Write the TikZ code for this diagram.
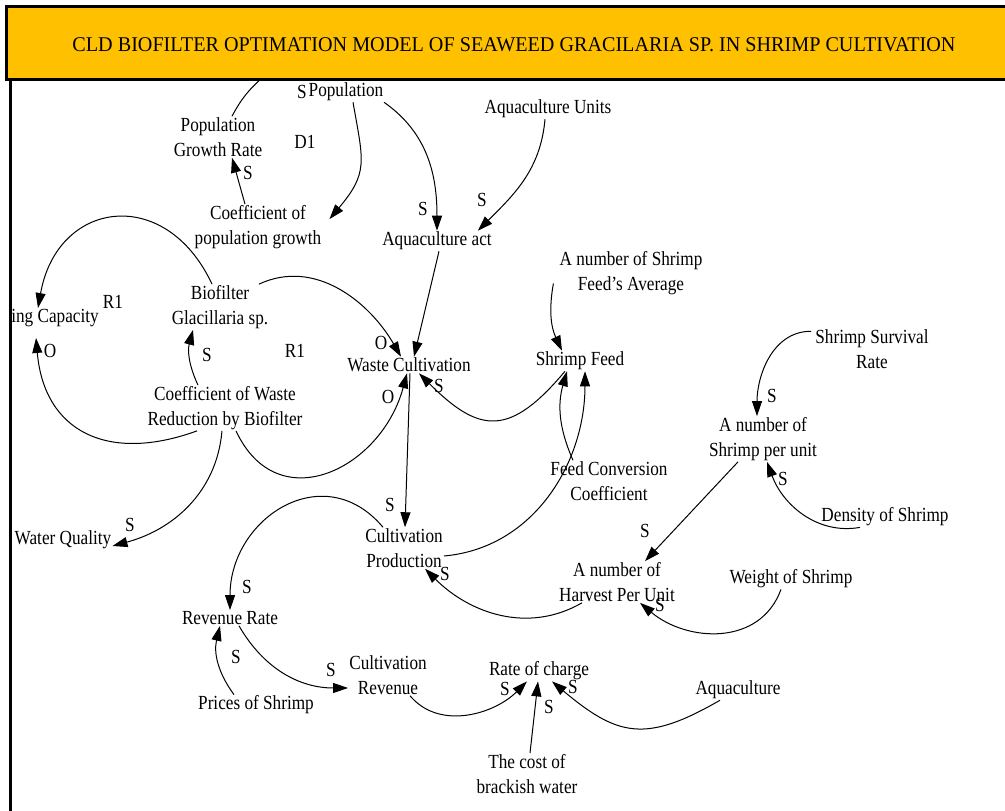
\documentclass[tikz,border=0pt]{standalone}
\usepackage{fontspec}
\setmainfont{Liberation Serif}[FakeStretch=0.86]
\newfontfamily\titlefont{Liberation Serif}[FakeStretch=0.96]
\definecolor{CLDOrange}{RGB}{255,192,0}
\usetikzlibrary{arrows.meta}

\begin{document}
\begin{tikzpicture}[x=1pt, y=1pt]
        % Causal loop diagram (variables, polarities, links)
        \tikzset{
          var/.style={font=\fontsize{20}{25}\selectfont, align=center, inner sep=1pt},
          pol/.style={font=\fontsize{20}{25}\selectfont, inner sep=0pt},
          link/.style={line width=1pt, -{Triangle[length=15pt, width=10pt]}},
          plain/.style={line width=1pt}
        }
        \useasboundingbox (0,0) rectangle (1005,811);

        % Population
        \node[var] (pop) at (346, 719) {Population};
        \node[pol] (spop) at (302, 719) {S};
        \node[var] (pgr) at (218, 674) {Population\\Growth Rate};
        \node[pol] (d1) at (305, 669) {D1};
        \node[var] (cpg) at (258, 584) {Coefficient of\\population growth};
        \node[pol] (scpg) at (248, 638) {S};
        \coordinate (popin) at (262, 733);

        % Aquaculture
        \node[var] (aqu) at (548, 702) {Aquaculture Units};
        \node[var] (aqa) at (437, 570) {Aquaculture act};
        \node[pol] (saqa1) at (423, 602) {S};
        \node[pol] (saqa2) at (482, 611) {S};

        % Biofilter
        \node[var] (cap) at (55, 493) {ing Capacity};
        \node[pol] (r1a) at (113, 509) {R1};
        \node[pol] (ocap) at (50, 460) {O};
        \node[var] (bio) at (220, 504) {Biofilter\\Glacillaria sp.};
        \node[pol] (sbio) at (207, 456) {S};
        \node[pol] (r1b) at (295, 460) {R1};
        \node[var] (cwr) at (225, 403) {Coefficient of Waste\\Reduction by Biofilter};
        \node[var] (wq) at (63, 271) {Water Quality};
        \node[pol] (swq) at (130, 286) {S};

        % Waste and feed
        \node[var] (wc) at (409, 446) {Waste Cultivation};
        \node[pol] (owc1) at (381, 468) {O};
        \node[pol] (owc2) at (388, 414) {O};
        \node[pol] (swc) at (439, 425) {S};
        \node[var] (nsf) at (631, 537.5) {A number of Shrimp\\Feed's Average};
        \node[var] (sf) at (580, 450) {Shrimp Feed};
        \node[var] (fcc) at (609, 330) {Feed Conversion\\Coefficient};

        % Shrimp
        \node[var] (ssr) at (872, 462) {Shrimp Survival\\Rate};
        \node[pol] (snsu) at (772, 415) {S};
        \node[var] (nsu) at (763, 372) {A number of\\Shrimp per unit};
        \node[pol] (sdos) at (783, 332) {S};
        \node[var] (dos) at (885, 294) {Density of Shrimp};

        % Production and harvest
        \node[var] (cp) at (404, 263) {Cultivation\\Production};
        \node[pol] (scp) at (390, 306) {S};
        \node[pol] (scp2) at (445, 237) {S};
        \node[var] (nhu) at (617, 229) {A number of\\Harvest Per Unit};
        \node[pol] (snhu) at (645, 280) {S};
        \node[pol] (swos) at (660, 206) {S};
        \node[var] (wos) at (791, 232) {Weight of Shrimp};

        % Revenue and charge
        \node[var] (rr) at (230, 193) {Revenue Rate};
        \node[pol] (srr1) at (247, 224) {S};
        \node[pol] (srr2) at (236, 154) {S};
        \node[var] (pos) at (256, 106) {Prices of Shrimp};
        \node[pol] (scr) at (331, 141) {S};
        \node[var] (cr) at (388, 136) {Cultivation\\Revenue};
        \node[var] (roc) at (539, 140) {Rate of charge};
        \node[pol] (sroc1) at (505, 122) {S};
        \node[pol] (sroc2) at (573, 124) {S};
        \node[pol] (sroc3) at (549, 104) {S};
        \node[var] (aq) at (738, 121) {Aquaculture};
        \node[var] (cbw) at (527, 37) {The cost of\\brackish water};

        % Links
        \draw[plain] ([xshift=14pt]pgr.north) to[bend left=10] (popin);
        \draw[link] ([xshift=-13pt]cpg.north) -- ([xshift=14pt]pgr.south);
        \draw[link] ([xshift=7pt]pop.south) to[out=-80, in=50, looseness=1.3] ([xshift=7pt, yshift=-15pt]cpg.north east);
        \draw[link] ([xshift=38pt]pop.south) to[out=-35, in=90] (aqa.north);
        \draw[link] ([xshift=-3pt]aqu.south) to[out=-95, in=45] ([xshift=-15pt]aqa.north east);
        \draw[link] ([xshift=2pt]aqa.south) -- ([xshift=5pt]wc.north);
        \draw[link] ([xshift=39pt]bio.north) to[out=25, in=120] ([xshift=-8pt]wc.north);
        \draw[link] ([xshift=-8pt]bio.north) to[out=115, in=80, looseness=1.6] ([xshift=-17pt]cap.north);
        \draw[link] ([xshift=-28pt]cwr.south) to[out=-160, in=-85, looseness=1.3] ([xshift=-19pt, yshift=-10pt]cap.south);
        \draw[link] ([xshift=-27pt]cwr.north) to[bend left=20] ([xshift=-27pt]bio.south);
        \draw[link] ([xshift=11pt]cwr.south) to[out=-65, in=-105, looseness=1.4] ([xshift=-2pt]wc.south);
        \draw[link] ([xshift=-3pt]cwr.south) to[out=-95, in=15] ([yshift=-6pt]wq.east);
        \draw[link] ([xshift=-15pt]sf.south) to[out=-130, in=-45, looseness=1.5] ([xshift=10pt]wc.south);
        \draw[link] ([xshift=-36pt]fcc.north) to[bend left=20] ([xshift=-13pt]sf.south);
        \draw[link] ([xshift=-5pt, yshift=-10pt]nsf.west) to[out=-100, in=115] ([xshift=-18pt]sf.north);
        \draw[link] ([yshift=-8pt]cp.east) to[out=5, in=-90] ([xshift=5pt]sf.south);
        \draw[link] ([xshift=1pt]wc.south) -- ([xshift=1pt]cp.north);
        \draw[link] ([xshift=-21pt]cp.north) to[out=130, in=90, looseness=1.35] (rr.north);
        \draw[link] ([xshift=-35pt]nhu.south) to[out=-150, in=-45] ([xshift=21pt]cp.south);
        \draw[link] ([xshift=-25pt]nsu.south) -- ([xshift=28pt]nhu.north);
        \draw[link] ([xshift=-3pt, yshift=-3pt]ssr.north west) to[out=180, in=90] ([xshift=-6pt]nsu.north);
        \draw[link] ([xshift=-25pt]dos.south) to[out=-170, in=-70] ([xshift=4pt]nsu.south);
        \draw[link] ([xshift=-10pt]wos.south) to[out=-110, in=-40, looseness=1.1] ([xshift=23pt]nhu.south);
        \draw[link] ([xshift=9pt]rr.south) to[out=-60, in=180] ([yshift=-13pt]cr.west);
        \draw[link] ([xshift=-22pt]pos.north) to[bend left=25] ([xshift=-10pt]rr.south);
        \draw[link] ([xshift=22pt]cr.south) to[out=-50, in=-135] ([xshift=-12pt]roc.south);
        \draw[link] ([xshift=-18pt]aq.south) to[out=-150, in=-40, looseness=1.3] ([xshift=13pt]roc.south);
        \draw[link] ([xshift=3pt]cbw.north) -- ([xshift=-1pt]roc.south);

        % Frame and title
        \draw[line width=3pt] (10, 731) -- (10, -5);
        \draw[line width=3pt, fill=CLDOrange] (6, 804) rectangle (1012, 731);
        \node[font=\titlefont\fontsize{21}{25}\selectfont] (ttl) at (514, 766)
          {CLD BIOFILTER OPTIMATION MODEL OF SEAWEED GRACILARIA SP. IN SHRIMP CULTIVATION};
      \end{tikzpicture}
\end{document}
